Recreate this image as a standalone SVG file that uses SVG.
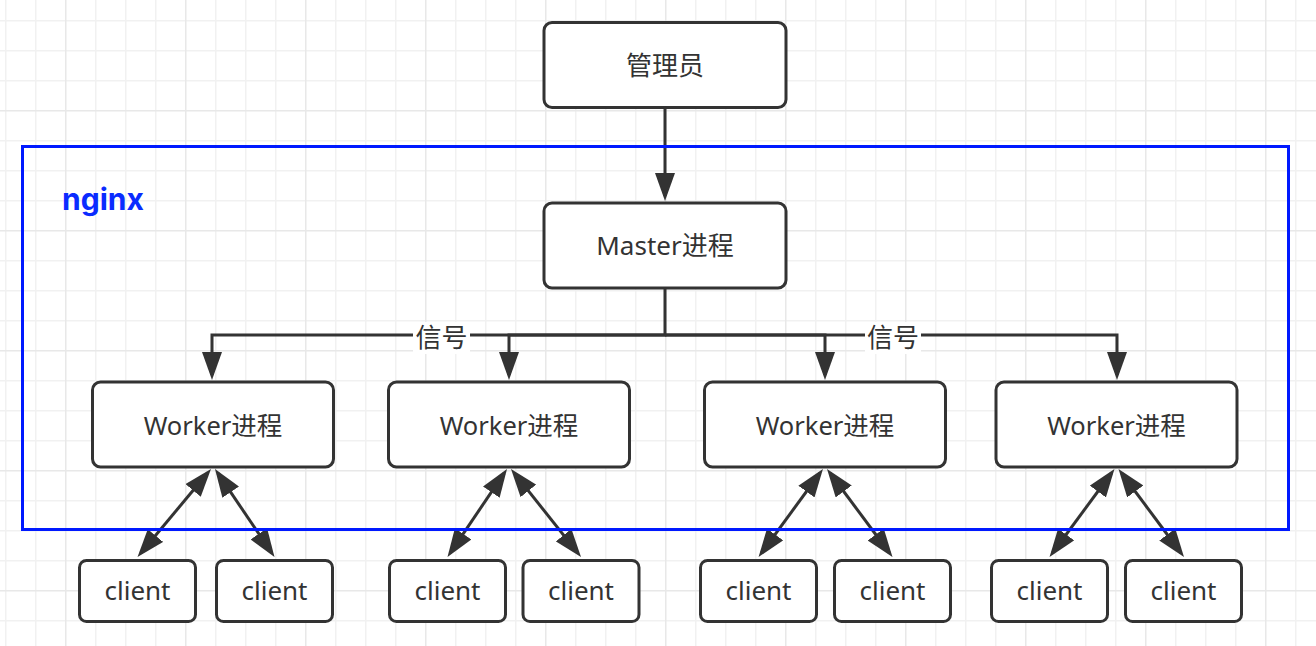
<svg xmlns="http://www.w3.org/2000/svg" width="1316" height="646" viewBox="0 0 1316 646">
<defs>
<pattern id="grid" patternUnits="userSpaceOnUse" x="65" y="110" width="120" height="120">
<rect x="0" y="0" width="120" height="120" fill="#ffffff"/>
<g fill="#f1f1f1">
<rect x="30" y="0" width="1.5" height="120"/><rect x="60" y="0" width="1.5" height="120"/><rect x="90" y="0" width="1.5" height="120"/>
<rect x="0" y="30" width="120" height="1.5"/><rect x="0" y="60" width="120" height="1.5"/><rect x="0" y="90" width="120" height="1.5"/>
</g>
<g fill="#e8e8e8">
<rect x="0" y="0" width="1.5" height="120"/><rect x="0" y="0" width="120" height="1.5"/>
</g>
</pattern>
<marker id="arr" markerUnits="userSpaceOnUse" markerWidth="28" markerHeight="20" refX="23" refY="10" orient="auto-start-reverse" viewBox="0 0 28 20">
<path d="M0,0 L28,10 L0,20 Z" fill="#333333"/>
</marker>
</defs>
<style>
.box{fill:#ffffff;stroke:#333333;stroke-width:3}
.txt{font-family:"Noto Sans","Noto Sans CJK SC",sans-serif;font-size:26px;fill:#333333;text-anchor:middle}
.wk{font-size:25.5px}
.lbl{font-family:"Noto Sans CJK SC","Noto Sans",sans-serif;font-size:26px;fill:#333333;text-anchor:middle}
.con{fill:none;stroke:#333333;stroke-width:3;stroke-linejoin:miter}
</style>
<rect x="0" y="0" width="1316" height="646" fill="url(#grid)"/>

<g id="connectors">
<path class="con" d="M665,108.5 V196" marker-end="url(#arr)"/>
<path class="con" d="M665,289 V335 H212 V375" marker-end="url(#arr)"/>
<path class="con" d="M665,335 H509 V375" marker-end="url(#arr)"/>
<path class="con" d="M665,335 H825 V375" marker-end="url(#arr)"/>
<path class="con" d="M665,335 H1117 V375" marker-end="url(#arr)"/>
<path class="con" d="M207.8,472.8 L140.7,553.2" marker-start="url(#arr)" marker-end="url(#arr)"/>
<path class="con" d="M217.8,473.1 L271.7,552.9" marker-start="url(#arr)" marker-end="url(#arr)"/>
<path class="con" d="M504.2,473.1 L450.3,552.9" marker-start="url(#arr)" marker-end="url(#arr)"/>
<path class="con" d="M514.1,472.9 L577.9,553.1" marker-start="url(#arr)" marker-end="url(#arr)"/>
<path class="con" d="M820.0,473.0 L761.5,553.0" marker-start="url(#arr)" marker-end="url(#arr)"/>
<path class="con" d="M830.0,473.0 L889.5,553.0" marker-start="url(#arr)" marker-end="url(#arr)"/>
<path class="con" d="M1111.5,473.0 L1052.5,553.0" marker-start="url(#arr)" marker-end="url(#arr)"/>
<path class="con" d="M1121.5,473.0 L1181.0,553.0" marker-start="url(#arr)" marker-end="url(#arr)"/>
<g id="signal-labels">
<rect x="413" y="322" width="57" height="32" fill="#ffffff"/>
<text class="lbl" x="441.5" y="347">信号</text>
<rect x="865" y="322" width="56" height="32" fill="#ffffff"/>
<text class="lbl" x="893" y="347">信号</text>
</g>
</g>

<g id="nginx">
<rect x="22.5" y="146.5" width="1266" height="383" fill="none" stroke="#0019ff" stroke-width="3"/>
<text x="62" y="210" font-family="Inter,'Noto Sans',sans-serif" font-size="30" font-weight="bold" fill="#0a2bff">nginx</text>
</g>

<g id="admin"><rect class="box" x="544" y="22.5" width="242" height="85" rx="8"/><text class="txt" x="665" y="75">管理员</text></g>
<g id="master"><rect class="box" x="544" y="203" width="242" height="85" rx="8"/><text class="txt" x="665" y="255">Master进程</text></g>

<g id="worker1"><rect class="box" x="92.5" y="382" width="241" height="85" rx="8"/><text class="txt wk" x="213" y="434.5">Worker进程</text></g>
<g id="worker2"><rect class="box" x="388.5" y="382" width="241" height="85" rx="8"/><text class="txt wk" x="509" y="434.5">Worker进程</text></g>
<g id="worker3"><rect class="box" x="704.5" y="382" width="241" height="85" rx="8"/><text class="txt wk" x="825" y="434.5">Worker进程</text></g>
<g id="worker4"><rect class="box" x="996" y="382" width="241" height="85" rx="8"/><text class="txt wk" x="1116.5" y="434.5">Worker进程</text></g>

<g id="client1"><rect class="box" x="79.5" y="560.5" width="116" height="61" rx="7"/><text class="txt" x="137.5" y="600">client</text></g>
<g id="client2"><rect class="box" x="216.5" y="560.5" width="116" height="61" rx="7"/><text class="txt" x="274.5" y="600">client</text></g>
<g id="client3"><rect class="box" x="389.5" y="560.5" width="116" height="61" rx="7"/><text class="txt" x="447.5" y="600">client</text></g>
<g id="client4"><rect class="box" x="523" y="560.5" width="116" height="61" rx="7"/><text class="txt" x="581" y="600">client</text></g>
<g id="client5"><rect class="box" x="700.5" y="560.5" width="116" height="61" rx="7"/><text class="txt" x="758.5" y="600">client</text></g>
<g id="client6"><rect class="box" x="834.5" y="560.5" width="116" height="61" rx="7"/><text class="txt" x="892.5" y="600">client</text></g>
<g id="client7"><rect class="box" x="991.5" y="560.5" width="116" height="61" rx="7"/><text class="txt" x="1049.5" y="600">client</text></g>
<g id="client8"><rect class="box" x="1125.5" y="560.5" width="116" height="61" rx="7"/><text class="txt" x="1183.5" y="600">client</text></g>
</svg>
